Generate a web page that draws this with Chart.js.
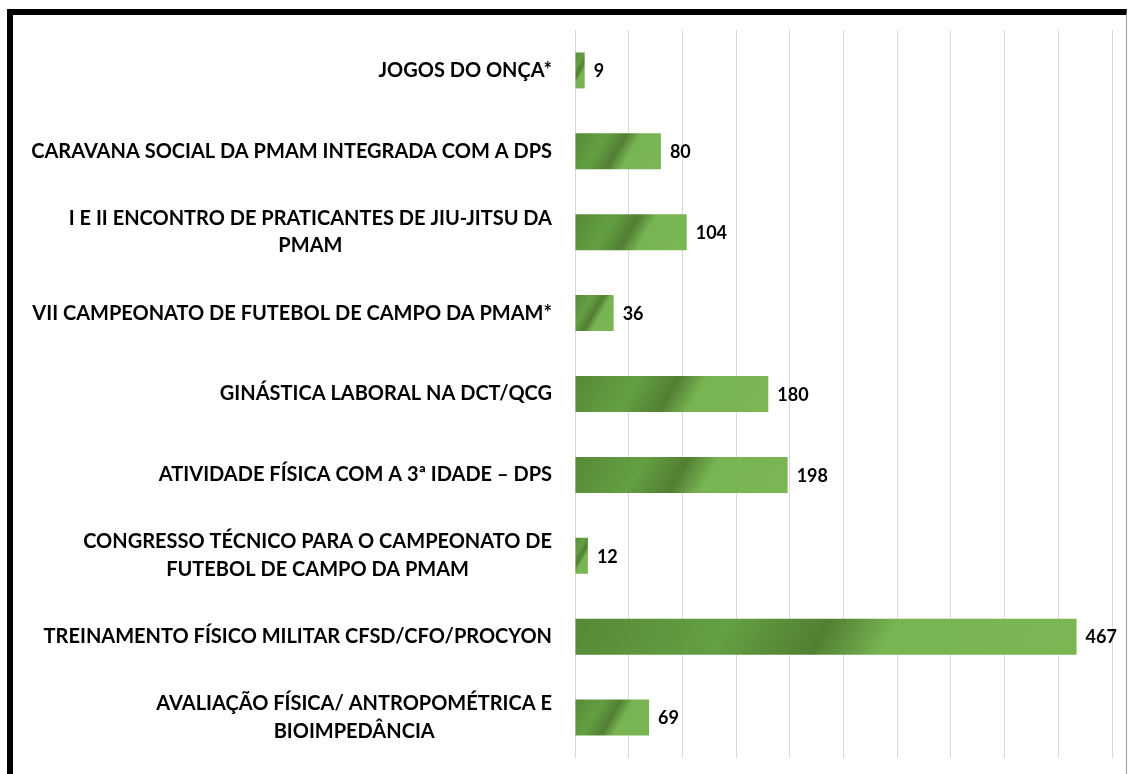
<!DOCTYPE html>
<html>
<head>
<meta charset="utf-8">
<script src="https://cdn.jsdelivr.net/npm/chart.js@4.4.1/dist/chart.umd.min.js"></script>
<style>
    html, body { margin: 0; padding: 0; background: #fff; }
    #wrap { position: relative; width: 1128px; height: 774px; overflow: hidden; }
    #frame {
        position: absolute; left: 7px; top: 9px; width: 1113px; height: 800px;
        border-top: 6px solid #000; border-left: 6px solid #000; border-right: 1px solid #9a9a9a;
        box-sizing: content-box;
    }
    canvas { position: absolute; left: 0; top: 0; }
</style>
</head>
<body>
<div id="wrap">
    <div id="frame"></div>
    <canvas id="chart" width="1128" height="774"></canvas>
</div>
<script>
// data
const categories = [
    ["JOGOS DO ONÇA*"],
    ["CARAVANA SOCIAL DA PMAM INTEGRADA COM A DPS"],
    ["I E II ENCONTRO DE PRATICANTES DE JIU-JITSU DA", "PMAM"],
    ["VII CAMPEONATO DE FUTEBOL DE CAMPO DA PMAM*"],
    ["GINÁSTICA LABORAL NA DCT/QCG"],
    ["ATIVIDADE FÍSICA COM A 3ª IDADE – DPS"],
    ["CONGRESSO TÉCNICO PARA O CAMPEONATO DE", "FUTEBOL DE CAMPO DA PMAM"],
    ["TREINAMENTO FÍSICO MILITAR CFSD/CFO/PROCYON"],
    ["AVALIAÇÃO FÍSICA/ ANTROPOMÉTRICA E", "BIOIMPEDÂNCIA"]
];
const participants = [9, 80, 104, 36, 180, 198, 12, 467, 69];
const axisMax = 500;
const axisStep = 50;

const LABEL_FONT = "bold 20px Lato";
const VALUE_FONT = "bold 18px Lato";

// diagonal green gradient like the office fill
function barFill(ctx) {
    const chart = ctx.chart;
    const xs = chart.scales.x, ys = chart.scales.y;
    if (!xs || !ys || ctx.type !== "data") return "#6aa545";
    const x0 = xs.getPixelForValue(0);
    const x1 = xs.getPixelForValue(participants[ctx.dataIndex]);
    const yc = ys.getPixelForValue(ctx.dataIndex);
    if (![x0, x1, yc].every(Number.isFinite)) return "#6aa545";
    const h = 36;
    const top = yc - h / 2;
    const w = Math.max(x1 - x0, 1);
    const len = w * 0.866 + h * 0.5;
    const g = chart.ctx.createLinearGradient(x0, top, x0 + len * 0.866, top + len * 0.5);
    g.addColorStop(0, "#578937");
    g.addColorStop(0.3, "#63a042");
    g.addColorStop(0.49, "#527f33");
    g.addColorStop(0.62, "#77b452");
    g.addColorStop(1, "#7ab753");
    return g;
}

// category labels: block right aligned, lines centred in block
const categoryLabels = {
    id: "categoryLabels",
    afterDraw(chart) {
        const c = chart.ctx, ys = chart.scales.y;
        const right = chart.chartArea.left - 23;
        c.save();
        c.font = LABEL_FONT;
        c.fillStyle = "#000";
        c.textAlign = "center";
        c.textBaseline = "middle";
        categories.forEach((lines, i) => {
            const blockW = Math.max(...lines.map(l => c.measureText(l).width));
            const cx = right - blockW / 2;
            const lh = 27.5;
            const y0 = ys.getPixelForValue(i) - (lines.length - 1) * lh / 2;
            lines.forEach((l, k) => c.fillText(l, cx, y0 + k * lh));
        });
        c.restore();
    }
};

// value labels at the end of each bar
const valueLabels = {
    id: "valueLabels",
    afterDatasetsDraw(chart) {
        const c = chart.ctx;
        const meta = chart.getDatasetMeta(0);
        c.save();
        c.font = VALUE_FONT;
        c.fillStyle = "#000";
        c.textAlign = "left";
        c.textBaseline = "middle";
        meta.data.forEach((bar, i) => {
            c.fillText(String(participants[i]), bar.x + 9, bar.y + 1);
        });
        c.restore();
    }
};

const ctx = document.getElementById("chart").getContext("2d");

new Chart(ctx, {
    type: "bar",
    data: {
        labels: categories,
        datasets: [{
            data: participants,
            backgroundColor: barFill,
            borderWidth: 0,
            categoryPercentage: 1,
            barPercentage: 0.445
        }]
    },
    options: {
        indexAxis: "y",
        responsive: false,
        animation: false,
        layout: { padding: { left: 0, right: 16, top: 30, bottom: 16 } },
        plugins: {
            legend: { display: false },
            tooltip: { enabled: false }
        },
        scales: {
            x: {
                min: 0,
                max: axisMax,
                ticks: { display: false, stepSize: axisStep },
                grid: { color: "#d9d9d9", lineWidth: 1, drawTicks: false },
                border: { display: false }
            },
            y: {
                ticks: { display: false },
                grid: { display: false },
                border: { display: false },
                afterFit(scale) { scale.width = 575; }
            }
        }
    },
    plugins: [categoryLabels, valueLabels]
});
</script>
</body>
</html>
